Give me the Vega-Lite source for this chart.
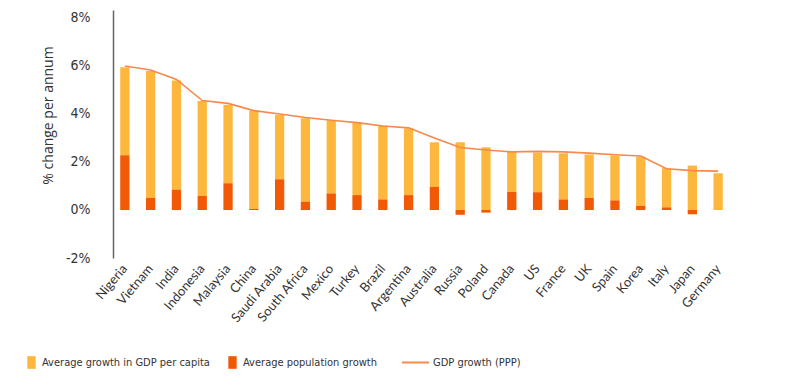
{
  "$schema": "https://vega.github.io/schema/vega-lite/v6.json",
  "width": 617,
  "height": 248,
  "autosize": "none",
  "padding": {"left": 113, "top": 10, "right": 66, "bottom": 132},
  "background": "white",
  "config": {"view": {"stroke": null}, "font": "DejaVu Sans Condensed"},
  "data": {
    "values": [
      {"country": "Nigeria", "pc": 3.67, "pop": 2.28, "gdp": 6.0},
      {"country": "Vietnam", "pc": 5.28, "pop": 0.51, "gdp": 5.83},
      {"country": "India", "pc": 4.54, "pop": 0.85, "gdp": 5.44},
      {"country": "Indonesia", "pc": 3.96, "pop": 0.58, "gdp": 4.56},
      {"country": "Malaysia", "pc": 3.27, "pop": 1.11, "gdp": 4.44},
      {"country": "China", "pc": 4.08, "pop": 0.05, "gdp": 4.14},
      {"country": "Saudi Arabia", "pc": 2.68, "pop": 1.28, "gdp": 4.0},
      {"country": "South Africa", "pc": 3.47, "pop": 0.35, "gdp": 3.85},
      {"country": "Mexico", "pc": 3.04, "pop": 0.69, "gdp": 3.74},
      {"country": "Turkey", "pc": 3.03, "pop": 0.62, "gdp": 3.64},
      {"country": "Brazil", "pc": 3.07, "pop": 0.44, "gdp": 3.5},
      {"country": "Argentina", "pc": 2.78, "pop": 0.62, "gdp": 3.42},
      {"country": "Australia", "pc": 1.86, "pop": 0.96, "gdp": 3.0},
      {"country": "Russia", "pc": 2.82, "pop": -0.2, "gdp": 2.6},
      {"country": "Poland", "pc": 2.61, "pop": -0.11, "gdp": 2.5},
      {"country": "Canada", "pc": 1.68, "pop": 0.75, "gdp": 2.42},
      {"country": "US", "pc": 1.65, "pop": 0.74, "gdp": 2.44},
      {"country": "France", "pc": 1.92, "pop": 0.44, "gdp": 2.42},
      {"country": "UK", "pc": 1.81, "pop": 0.5, "gdp": 2.37},
      {"country": "Spain", "pc": 1.86, "pop": 0.4, "gdp": 2.3},
      {"country": "Korea", "pc": 2.05, "pop": 0.17, "gdp": 2.25},
      {"country": "Italy", "pc": 1.63, "pop": 0.11, "gdp": 1.72},
      {"country": "Japan", "pc": 1.85, "pop": -0.18, "gdp": 1.64},
      {"country": "Germany", "pc": 1.53, "pop": 0.0, "gdp": 1.62}
    ]
  },
  "encoding": {
    "x": {
      "field": "country",
      "type": "nominal",
      "sort": null,
      "scale": {"paddingInner": 0.64, "paddingOuter": 0.28},
      "axis": {
        "title": null,
        "domain": false,
        "ticks": false,
        "labelAngle": -50,
        "labelPadding": 8,
        "labelFont": "Lato",
        "labelFontSize": 13,
        "labelColor": "#333333"
      }
    }
  },
  "layer": [
    {
      "transform": [{"fold": ["pc", "pop"], "as": ["series", "value"]}],
      "mark": {"type": "bar"},
      "encoding": {
        "y": {
          "field": "value",
          "type": "quantitative",
          "stack": "zero",
          "scale": {"domain": [-2, 8.33], "nice": false, "zero": false},
          "axis": {
            "values": [-2, 0, 2, 4, 6, 8],
            "labelExpr": "datum.value + '%'",
            "grid": false,
            "ticks": false,
            "domainColor": "#666666",
            "domainWidth": 1.5,
            "labelPadding": 23,
            "labelFontSize": 14,
            "labelColor": "#333333",
            "title": "% change per annum",
            "titleFont": "Open Sans",
            "titleFontSize": 14,
            "titleFontWeight": "normal",
            "titleColor": "#333333",
            "titlePadding": 10,
            "titleY": 105
          }
        },
        "color": {
          "field": "series",
          "type": "nominal",
          "scale": {"domain": ["pc", "pop"], "range": ["#FDB73D", "#F25904"]},
          "legend": {
            "title": null,
            "orient": "none",
            "direction": "horizontal",
            "legendX": -88,
            "legendY": 346,
            "gridAlign": "none",
            "labelExpr": "datum.label == 'pc' ? 'Average growth in GDP per capita' : 'Average population growth'",
            "labelFontSize": 11,
            "labelColor": "#333333",
            "labelLimit": 300,
            "symbolType": "M-0.66,-1H0.66V1H-0.66Z",
            "symbolSize": 160,
            "symbolStrokeWidth": 0,
            "columnPadding": 16,
            "labelOffset": 4
          }
        },
        "order": {"field": "series", "sort": "descending"}
      }
    },
    {
      "mark": {"type": "rule", "color": "#666666", "strokeWidth": 1.5},
      "encoding": {"y": {"datum": 0, "type": "quantitative"}}
    },
    {
      "mark": {"type": "line", "strokeWidth": 1.6},
      "encoding": {
        "y": {"field": "gdp", "type": "quantitative"},
        "stroke": {
          "datum": "GDP growth (PPP)",
          "scale": {"range": ["#F7894A"]},
          "legend": {
            "title": null,
            "orient": "none",
            "legendX": 288,
            "legendY": 338,
            "labelFontSize": 11,
            "labelColor": "#333333",
            "symbolSize": 729,
            "symbolStrokeWidth": 2,
            "labelOffset": 3
          }
        }
      }
    }
  ]
}
